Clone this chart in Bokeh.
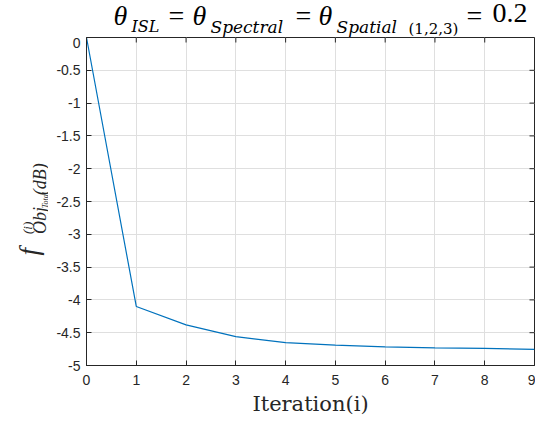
import math
from bokeh.plotting import figure
from bokeh.models import Range1d, FixedTicker, ColumnDataSource
from bokeh.layouts import column, row
from bokeh.core.properties import value
from bokeh.embed import file_html
from bokeh.resources import INLINE

iterations = [0, 1, 2, 3, 4, 5, 6, 7, 8, 9]
fobj_db = [0.0, -4.10, -4.38, -4.56, -4.65, -4.69, -4.715, -4.73, -4.74, -4.755]
x_ticks = [0, 1, 2, 3, 4, 5, 6, 7, 8, 9]
y_ticks = [-5, -4.5, -4, -3.5, -3, -2.5, -2, -1.5, -1, -0.5, 0]

AX = "#262626"
SANS = "Liberation Sans"
SERIF = "DejaVu Serif"
MATH = "Liberation Serif"

X0, X1 = 0, 9
Y0, Y1 = -5, 0
FW, FH = 448, 328
LEFT_W = 48
TITLE_H = 37
H2 = 421 - TITLE_H


def strip(width, height):
    f = figure(width=width, height=height, output_backend="svg", toolbar_location=None,
               x_range=Range1d(0, width), y_range=Range1d(height, 0), min_border=0, title=None)
    f.axis.visible = False
    f.grid.visible = False
    f.outline_line_color = None
    f.background_fill_color = "white"
    f.border_fill_color = "white"
    return f


p = figure(frame_width=FW, frame_height=FH, output_backend="svg", toolbar_location=None,
           x_range=Range1d(X0, X1), y_range=Range1d(Y0, Y1), title=None,
           min_border_left=38, min_border_top=0, min_border_bottom=51, min_border_right=1)
p.background_fill_color = "white"
p.border_fill_color = "white"
p.outline_line_color = AX
p.grid.grid_line_color = "#dfdfdf"
p.line(iterations, fobj_db, line_color="#0072BD", line_width=1.2)
p.xaxis.ticker = FixedTicker(ticks=x_ticks)
p.yaxis.ticker = FixedTicker(ticks=y_ticks)
p.yaxis.major_label_overrides = {v: ("%g" % v) for v in y_ticks}
for ax in p.xaxis + p.yaxis:
    ax.axis_line_color = AX
    ax.major_tick_line_color = AX
    ax.major_tick_in = 5
    ax.major_tick_out = 0
    ax.minor_tick_line_color = None
    ax.major_label_text_font = SANS
    ax.major_label_text_font_size = "14px"
    ax.major_label_text_color = AX
p.xaxis.major_label_standoff = 9
p.yaxis.major_label_standoff = 6
p.xaxis.axis_label = "Iteration(i)"
p.xaxis.axis_label_text_font = SERIF
p.xaxis.axis_label_text_font_style = "normal"
p.xaxis.axis_label_text_font_size = "21px"
p.xaxis.axis_label_text_color = AX
p.xaxis.axis_label_standoff = 4

ty = 5 * (Y1 - Y0) / FH
tx = 5 * (X1 - X0) / FW
p.segment(x0=x_ticks, y0=[Y1] * len(x_ticks), x1=x_ticks, y1=[Y1 - ty] * len(x_ticks),
          line_color=AX, line_width=1)
p.segment(x0=[X1] * len(y_ticks), y0=y_ticks, x1=[X1 - tx] * len(y_ticks), y1=y_ticks,
          line_color=AX, line_width=1)

# title: anchored at top-left of each piece (px from strip top-left)
title_src = ColumnDataSource(dict(
    text=["θ", "ISL", "=", "θ", "Spectral", "=", "θ", "Spatial", "(1,2,3)", "=", "0.2"],
    x=[113, 131, 168, 192, 210, 295, 318, 336, 408, 466, 492],
    y=[-1, 16, -1, -1, 16, -1, -1, 16, 19, -1, 3],
    font=[MATH, SERIF, MATH, MATH, SERIF, MATH, MATH, SERIF, SERIF, MATH, MATH],
    size=["28px", "16px", "28px", "28px", "17px", "28px", "28px", "17px", "15px", "28px", "28px"],
    style=["italic", "italic", "normal", "italic", "italic", "normal", "italic", "italic",
           "normal", "normal", "normal"],
))
t = strip(535, TITLE_H)
t.text(x="x", y="y", text="text", source=title_src, text_font="font",
       text_font_size="size", text_font_style="style", text_color="black",
       text_baseline="top", text_align="left")

# y label: rotated, reads upward; anchor = start of text, ascent side
ylab_start = [290, 265, 265, 235, 220]   # page px (start of each piece)
ylab_src = ColumnDataSource(dict(
    text=["f", "(i)", "Obj", "Total", "(dB)"],
    x=[13, 19, 29, 40, 29],
    y=[v - TITLE_H for v in ylab_start],
    size=["27px", "13px", "18px", "8px", "18px"],
))
yl = strip(LEFT_W, H2)
yl.text(x="x", y="y", text="text", source=ylab_src, text_font=value(MATH),
        text_font_size="size", text_font_style="italic", text_color=AX, angle=math.pi / 2,
        text_baseline="top", text_align="left")

layout = column(t, row(yl, p))
open("out.html", "w").write(file_html(layout, INLINE))
